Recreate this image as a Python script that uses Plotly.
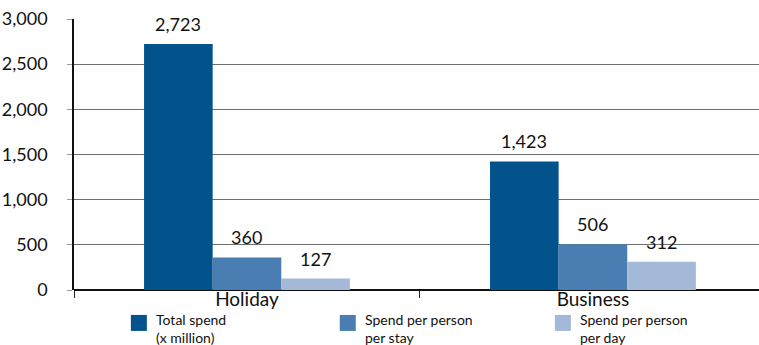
import plotly.graph_objects as go

# Trip purposes and spending figures
categories = ["Holiday", "Business"]
series_names = ["Total spend<br>(x million)", "Spend per person<br>per stay", "Spend per person<br>per day"]
total_spend = [2723, 1423]
spend_per_stay = [360, 506]
spend_per_day = [127, 312]
y_ticks = [0, 500, 1000, 1500, 2000, 2500, 3000]
y_tick_labels = ["0", "500", "1,000", "1,500", "2,000", "2,500", "3,000"]

colors = ["#02528c", "#4a7db1", "#a3b9d7"]
series_values = [total_spend, spend_per_stay, spend_per_day]
FONT = "Lato, 'Open Sans', sans-serif"

fig = go.Figure()
for name, vals, col in zip(series_names, series_values, colors):
    fig.add_trace(go.Bar(
        x=categories, y=vals, name=name, showlegend=False,
        marker=dict(color=col, line=dict(width=0)),
    ))

# value labels above each bar, offset by trace within the group
n = len(series_values)
group_width = 1 - 0.405
bar_w = group_width / n
for i, vals in enumerate(series_values):
    offset = -group_width / 2 + bar_w * (i + 0.5)
    for j, v in enumerate(vals):
        fig.add_annotation(
            x=j + offset, y=v, xref="x", yref="y",
            text=f"{v:,}", showarrow=False,
            yanchor="middle", yshift=20,
            font=dict(size=18, color="#111", family=FONT),
        )

# legend keys along the bottom
legend_x = [0.083, 0.388, 0.702]   # paper-x of each key square's left edge
sq_w = 16 / 685
for lx, name, col in zip(legend_x, series_names, colors):
    fig.add_shape(
        type="rect", xref="paper", yref="paper",
        x0=lx, x1=lx + sq_w, y0=-0.151, y1=-0.092,
        fillcolor=col, line=dict(width=0),
    )
    fig.add_annotation(
        text=name, xref="paper", yref="paper",
        x=lx + sq_w + 8 / 685, y=-0.072, xanchor="left", yanchor="top",
        align="left", showarrow=False, borderpad=0,
        font=dict(size=14, color="#111", family=FONT),
    )

fig.update_layout(
    width=759, height=345,
    margin=dict(l=74, r=0, t=19, b=55),
    paper_bgcolor="white", plot_bgcolor="white",
    barmode="group", bargap=0.405, bargroupgap=0,
    font=dict(family=FONT, color="#111"),
    showlegend=False,
    xaxis=dict(
        range=[-0.5, 1.48], showgrid=False, showline=False,
        ticks="outside", tickson="boundaries", ticklen=7, tickcolor="#222",
        tickfont=dict(size=19, color="#111", family=FONT),
        ticklabelstandoff=-4,
        zeroline=False,
    ),
    yaxis=dict(
        range=[0, 3000], tickvals=y_ticks, ticktext=y_tick_labels,
        showgrid=True, gridcolor="#6e6e6e", gridwidth=1,
        showline=True, linecolor="#111", linewidth=1.5,
        ticks="outside", ticklen=5, tickcolor="#999",
        tickfont=dict(size=18, color="#111", family=FONT),
        zeroline=True, zerolinecolor="#111", zerolinewidth=1.5,
        ticklabelstandoff=16,
    ),
)

fig.write_html("out.html")
